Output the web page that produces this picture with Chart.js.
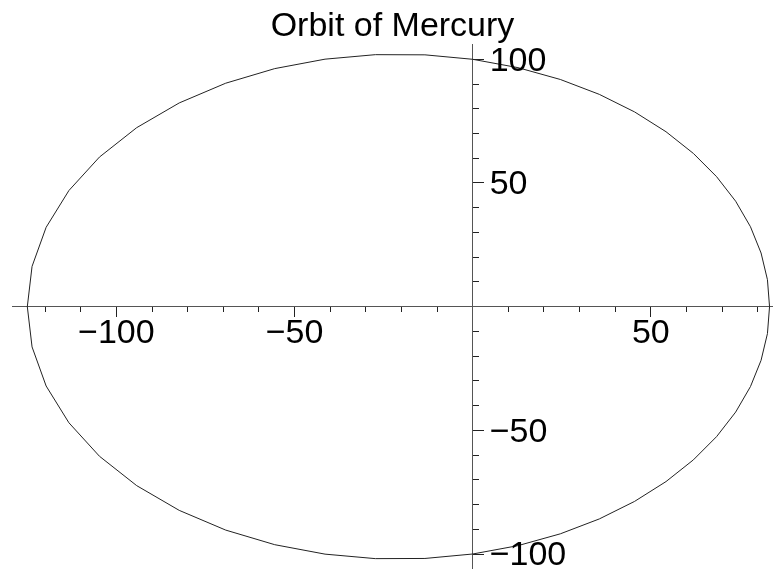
<!DOCTYPE html>
<html>
<head>
<meta charset="utf-8">
<title>Orbit of Mercury</title>
<script src="https://cdn.jsdelivr.net/npm/chart.js@4/dist/chart.umd.min.js"></script>
<style>
    html, body { margin: 0; padding: 0; background: #fff; }
    #wrap { width: 773px; height: 569px; position: relative; }
</style>
</head>
<body>
<div id="wrap"><canvas id="orbitChart"></canvas></div>
<script>
// Points of the orbit (one every 7.5 degrees, focus at the origin)
const orbitX = [83.33, 82.74, 80.95, 77.98, 73.82, 68.47, 61.95, 54.27, 45.45, 35.55, 24.61, 12.72, 0,
    -13.40, -27.30, -41.44, -55.56, -69.32, -82.36, -94.30, -104.75, -113.33, -119.72, -123.67, -125,
    -123.67, -119.72, -113.33, -104.75, -94.30, -82.36, -69.32, -55.56, -41.44, -27.30, -13.40, 0,
    12.72, 24.61, 35.55, 45.45, 54.27, 61.95, 68.47, 73.82, 77.98, 80.95, 82.74, 83.33];
const orbitY = [0, 10.89, 21.69, 32.30, 42.62, 52.54, 61.95, 70.72, 78.73, 85.82, 91.84, 96.62, 100,
    101.80, 101.87, 100.05, 96.23, 90.33, 82.36, 72.36, 60.48, 46.94, 32.08, 16.28, 0,
    -16.28, -32.08, -46.94, -60.48, -72.36, -82.36, -90.33, -96.23, -100.05, -101.87, -101.80, -100,
    -96.62, -91.84, -85.82, -78.73, -70.72, -61.95, -52.54, -42.62, -32.30, -21.69, -10.89, 0];

// Labelled ticks
const xTickLabels = [-100, -50, 50];
const yTickLabels = [100, 50, -50, -100];

const FONT = "'Liberation Sans', Arial, sans-serif";

function fmt(v) {
    return v < 0 ? "\u2212" + Math.abs(v) : String(v);
}

document.addEventListener("DOMContentLoaded", function () {
    const points = orbitX.map(function (x, i) { return {x: x, y: orbitY[i]}; });

    // y labels sit to the right of the axis, which chart.js won't do for a centred axis
    const yLabelPlugin = {
        id: 'yLabels',
        afterDraw: function (chart) {
            const ctx = chart.ctx;
            const xPix = chart.scales.x.getPixelForValue(0);
            ctx.save();
            ctx.font = "34px " + FONT;
            ctx.fillStyle = '#000';
            ctx.textAlign = 'left';
            ctx.textBaseline = 'middle';
            for (const v of yTickLabels) {
                ctx.fillText(fmt(v), xPix + 17, chart.scales.y.getPixelForValue(v) + 2);
            }
            ctx.restore();
        }
    };

    const xLimits = {min: -129.3, max: 84.3};
    const yLimits = {min: -106.06, max: 105.86};

    new Chart(document.getElementById("orbitChart"), {
        type: 'scatter',
        data: {
            datasets: [{
                data: points,
                showLine: true,
                borderColor: '#222',
                borderWidth: 1,
                pointRadius: 0,
                tension: 0,
                fill: false
            }]
        },
        options: {
            responsive: true,
            maintainAspectRatio: false,
            animation: false,
            layout: {padding: {left: 12, right: 0, top: 0, bottom: 0}},
            plugins: {
                legend: {display: false},
                tooltip: {enabled: false},
                title: {
                    display: true,
                    text: 'Orbit of Mercury',
                    color: '#000',
                    font: {family: FONT, size: 34, weight: 'normal'},
                    padding: {top: 6, bottom: -2}
                }
            },
            scales: {
                x: {
                    type: 'linear',
                    position: {y: 0},
                    min: xLimits.min,
                    max: xLimits.max,
                    border: {display: true, color: '#555', width: 1},
                    grid: {drawOnChartArea: false, tickLength: 10, tickColor: '#222', tickWidth: 1},
                    ticks: {
                        stepSize: 50,
                        includeBounds: false,
                        autoSkip: false,
                        maxRotation: 0,
                        padding: -3,
                        color: '#000',
                        font: {family: FONT, size: 34},
                        callback: function (value) {
                            return xTickLabels.includes(value) ? fmt(value) : '';
                        }
                    }
                },
                xMinor: {
                    type: 'linear',
                    axis: 'x',
                    position: {y: 0},
                    min: xLimits.min,
                    max: xLimits.max,
                    border: {display: false},
                    grid: {drawOnChartArea: false, tickLength: 5, tickColor: '#222', tickWidth: 1},
                    ticks: {stepSize: 10, includeBounds: false, display: false}
                },
                y: {
                    type: 'linear',
                    position: {x: 0},
                    min: yLimits.min,
                    max: yLimits.max,
                    border: {display: true, color: '#555', width: 1},
                    // negative length puts the tick marks on the right of the axis
                    grid: {drawOnChartArea: false, tickLength: -12, tickColor: '#222', tickWidth: 1},
                    ticks: {stepSize: 50, includeBounds: false, display: false}
                },
                yMinor: {
                    type: 'linear',
                    axis: 'y',
                    position: {x: 0},
                    min: yLimits.min,
                    max: yLimits.max,
                    border: {display: false},
                    grid: {drawOnChartArea: false, tickLength: -6, tickColor: '#222', tickWidth: 1},
                    ticks: {stepSize: 10, includeBounds: false, display: false}
                }
            }
        },
        plugins: [yLabelPlugin]
    });
});
</script>
</body>
</html>
